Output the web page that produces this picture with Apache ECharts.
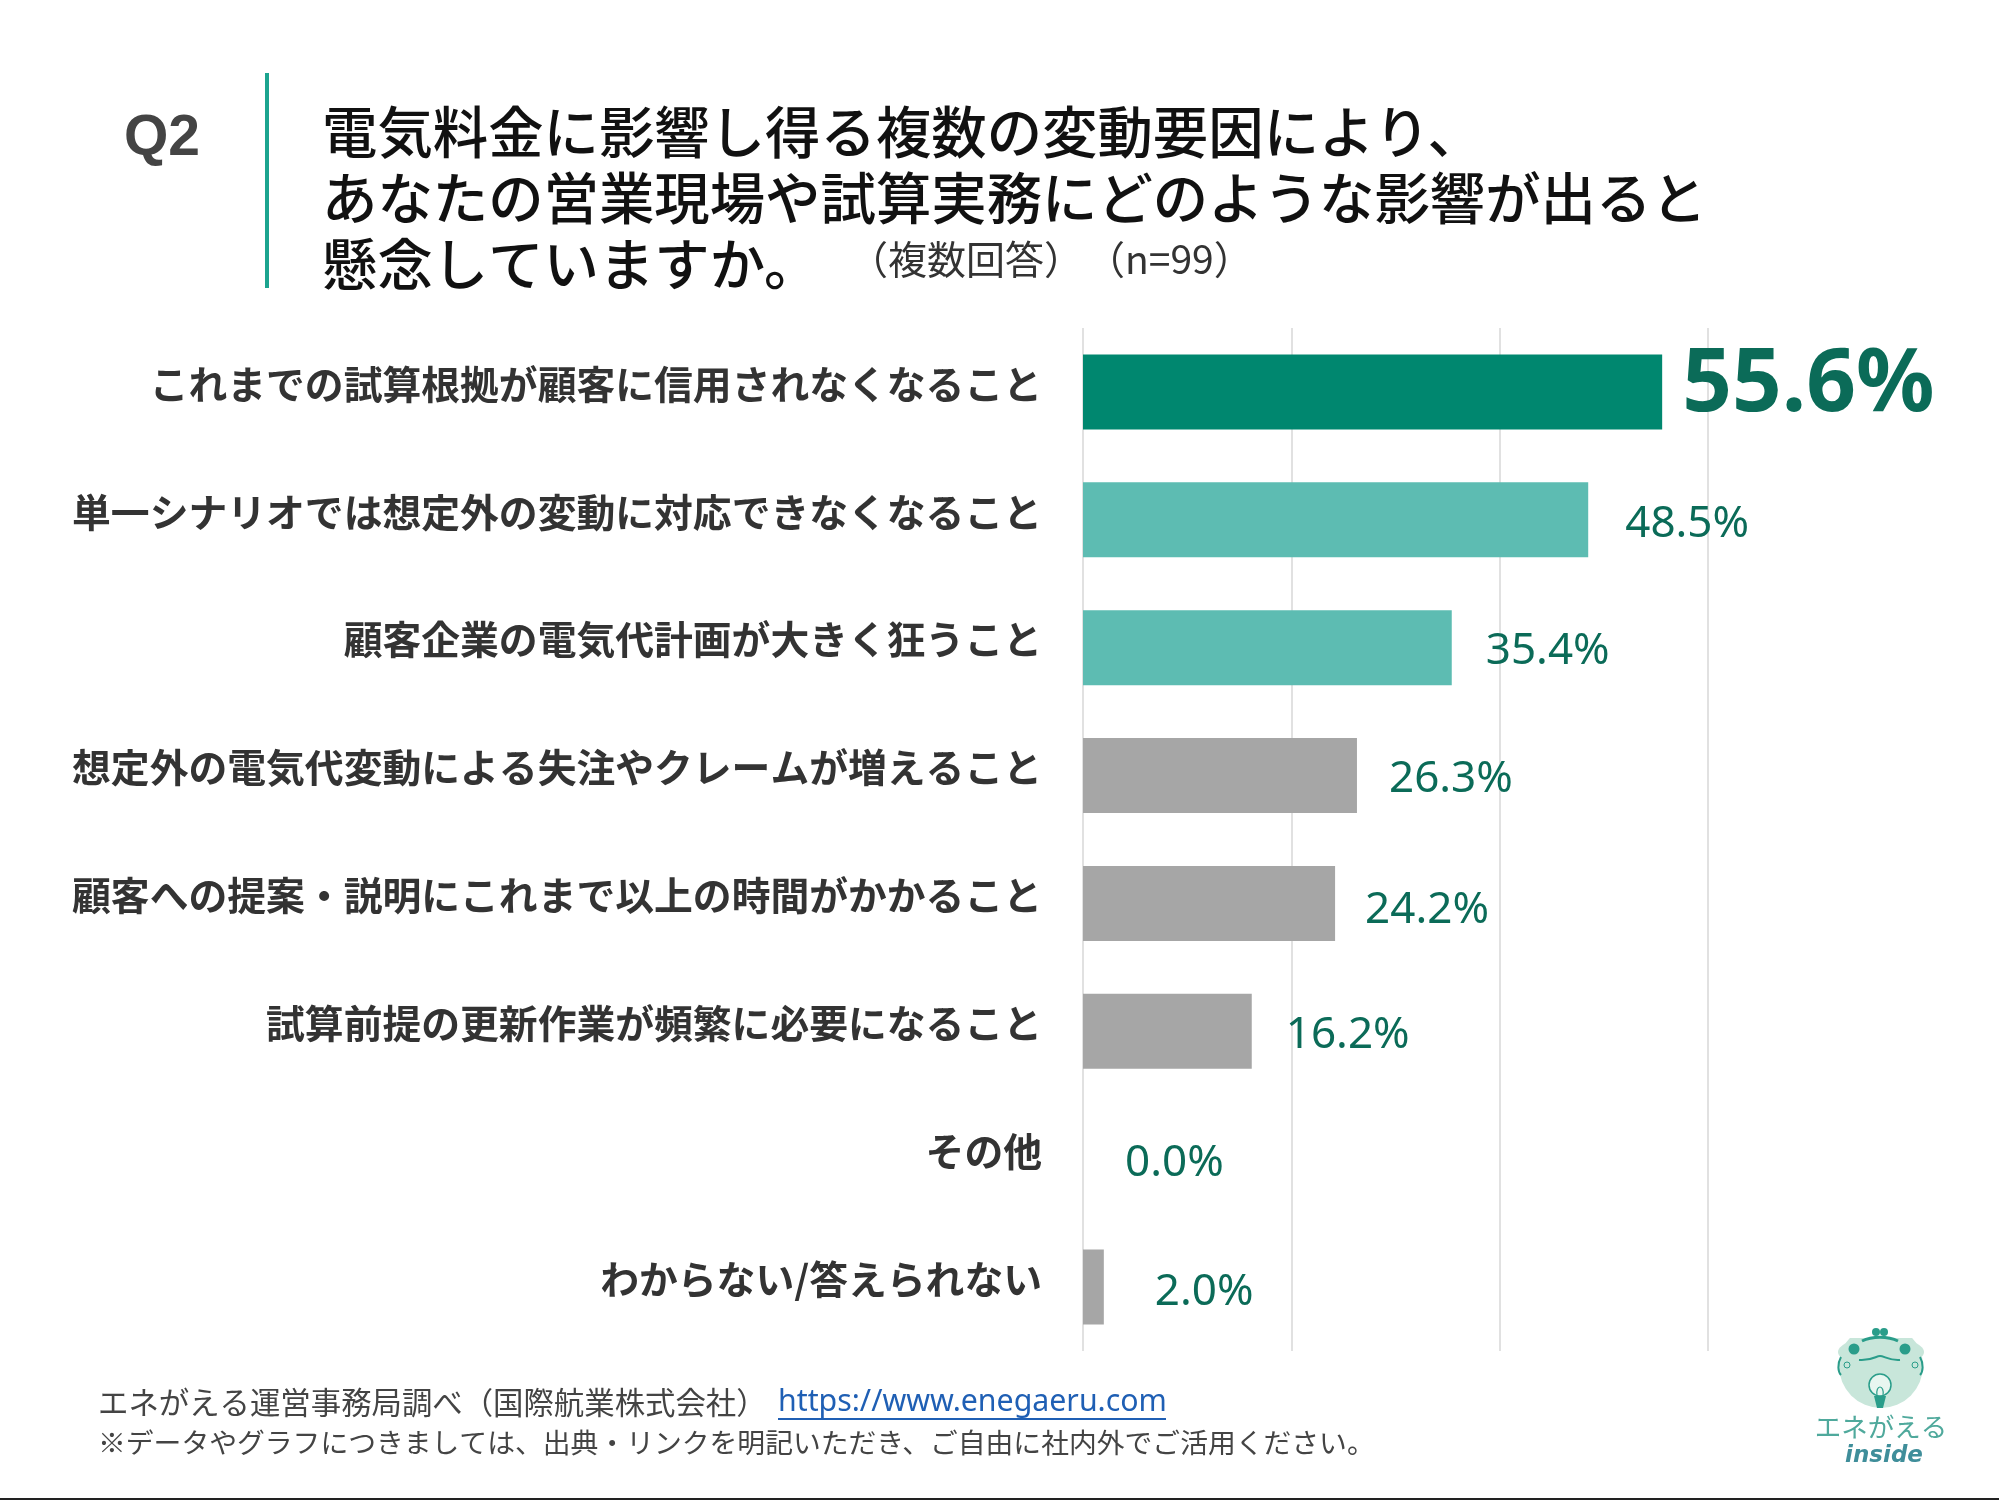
<!DOCTYPE html>
<html lang="ja">
<head>
<meta charset="utf-8">
<title>Q2</title>
<style>html,body{margin:0;padding:0;background:#fff}#chart{width:1999px;height:1500px}</style>
<script src="https://cdn.jsdelivr.net/npm/echarts@6/dist/echarts.min.js"></script>
</head>
<body>
<div id="chart"></div>
<script>
// Survey responses, in percent of respondents (n=99)
const categories = [
  'これまでの試算根拠が顧客に信用されなくなること',
  '単一シナリオでは想定外の変動に対応できなくなること',
  '顧客企業の電気代計画が大きく狂うこと',
  '想定外の電気代変動による失注やクレームが増えること',
  '顧客への提案・説明にこれまで以上の時間がかかること',
  '試算前提の更新作業が頻繁に必要になること',
  'その他',
  'わからない/答えられない'
];
const values = [55.6, 48.5, 35.4, 26.3, 24.2, 16.2, 0.0, 2.0];
const xTicks = [0, 20, 40, 60];

// Presentation per bar: fill, gap before the value label, vertical nudge
const barColors = ['#00876f', '#5dbcb2', '#5dbcb2', '#a6a6a6', '#a6a6a6', '#a6a6a6', '#a6a6a6', '#a6a6a6'];
const labelGaps = [20, 37, 34, 32, 30, 34, 42, 51];
const labelNudges = [-6, 5, 4, 4, 7, 4, 4, 5];

const CJK = '"Noto Sans CJK JP","Noto Sans",sans-serif';
const LATIN = '"Noto Sans","Open Sans",sans-serif';
const INK = '#111111';
const VALUE_GREEN = '#0b6b58';
const LOGO_GREEN = '#2a9d8a';
const LOGO_PALE = '#c8e6da';

function textEl(x, y, text, size, fill, extra) {
  return {
    type: 'text', x: x, y: y, silent: true,
    style: Object.assign({
      text: text, fill: fill, font: '400 ' + size + 'px ' + CJK,
      textAlign: 'left', textVerticalAlign: 'middle'
    }, extra || {})
  };
}

function titleLine(y, text) {
  return textEl(322, y, text, 55.4, INK, { font: '500 55.4px ' + CJK });
}

const heading = [
  // question marker and rule
  textEl(124, 139, 'Q2', 57, '#444444', { font: '700 57px "Liberation Sans",Arial,sans-serif' }),
  { type: 'rect', silent: true, shape: { x: 265, y: 73, width: 4, height: 215 }, style: { fill: '#1ca48f' } },
  // question text
  titleLine(132, '電気料金に影響し得る複数の変動要因により、'),
  titleLine(198, 'あなたの営業現場や試算実務にどのような影響が出ると'),
  titleLine(264, '懸念していますか。'),
  textEl(849, 259, '（複数回答）', 39, '#333333'),
  textEl(1086, 259, '（n=99）', 39, '#333333', { font: '400 39px ' + CJK })
];

const footer = [
  textEl(98, 1402, 'エネがえる運営事務局調べ（国際航業株式会社）', 30.4, '#444444'),
  textEl(778, 1402, 'https://www.enegaeru.com', 30.3, '#1f5fb4', { font: '400 30.3px ' + LATIN }),
  { type: 'rect', silent: true, shape: { x: 778, y: 1418, width: 388, height: 2 }, style: { fill: '#1f5fb4' } },
  textEl(98, 1442, '※データやグラフにつきましては、出典・リンクを明記いただき、ご自由に社内外でご活用ください。', 27.8, '#444444'),
  { type: 'rect', silent: true, shape: { x: 0, y: 1498, width: 1999, height: 2 }, style: { fill: '#222222' } }
];

function curve(x1, y1, cx1, cy1, cx2, cy2, x2, y2, width, color) {
  return {
    type: 'bezierCurve', silent: true,
    shape: { x1: x1, y1: y1, cpx1: cx1, cpy1: cy1, cpx2: cx2, cpy2: cy2, x2: x2, y2: y2 },
    style: { stroke: color || LOGO_GREEN, lineWidth: width, fill: 'none' }
  };
}

// Frog-and-light-bulb brand mark
const logo = [
  { type: 'circle', silent: true, shape: { cx: 1881, cy: 1366, r: 42 }, style: { fill: LOGO_PALE } },
  { type: 'rect', silent: true, shape: { x: 1838, y: 1324, width: 86, height: 14 }, style: { fill: '#ffffff' } },
  { type: 'ellipse', silent: true, shape: { cx: 1881, cy: 1352, rx: 43, ry: 15 }, style: { fill: LOGO_PALE } },
  { type: 'circle', silent: true, shape: { cx: 1854, cy: 1349, r: 5.5 }, style: { fill: LOGO_GREEN } },
  { type: 'circle', silent: true, shape: { cx: 1905, cy: 1349, r: 5.5 }, style: { fill: LOGO_GREEN } },
  { type: 'circle', silent: true, shape: { cx: 1876, cy: 1332, r: 4 }, style: { fill: LOGO_GREEN } },
  { type: 'circle', silent: true, shape: { cx: 1884, cy: 1332, r: 4 }, style: { fill: LOGO_GREEN } },
  curve(1862, 1341, 1872, 1336, 1888, 1336, 1898, 1341, 3),
  curve(1859, 1360, 1872, 1361, 1876, 1356, 1880, 1356, 2),
  curve(1880, 1356, 1884, 1356, 1890, 1361, 1900, 1360, 2),
  curve(1841, 1357, 1837, 1364, 1838, 1372, 1841, 1375, 2),
  curve(1920, 1357, 1924, 1364, 1923, 1372, 1920, 1375, 2),
  { type: 'circle', silent: true, shape: { cx: 1847, cy: 1365, r: 3 }, style: { fill: 'none', stroke: LOGO_GREEN, lineWidth: 1 } },
  { type: 'circle', silent: true, shape: { cx: 1915, cy: 1365, r: 3 }, style: { fill: 'none', stroke: LOGO_GREEN, lineWidth: 1 } },
  { type: 'circle', silent: true, shape: { cx: 1880, cy: 1385, r: 11 }, style: { fill: '#e8f6f0', stroke: LOGO_GREEN, lineWidth: 1.5 } },
  curve(1877, 1396, 1875, 1384, 1885, 1384, 1883, 1396, 1.2),
  { type: 'polygon', silent: true, shape: { points: [[1874, 1396], [1886, 1396], [1883, 1408], [1877, 1408]] }, style: { fill: LOGO_GREEN } },
  textEl(1881, 1427, 'エネがえる', 26.5, '#4fa99c', { textAlign: 'center' }),
  textEl(1884, 1456, 'inside', 23, '#3f8e9a', { textAlign: 'center', font: 'italic 700 23px "DejaVu Sans",sans-serif' })
];

const seriesData = values.map(function (v, i) {
  const lead = i === 0;
  return {
    value: v,
    itemStyle: { color: barColors[i] },
    label: {
      distance: labelGaps[i],
      offset: [0, labelNudges[i]],
      fontSize: lead ? 87 : 44,
      fontWeight: lead ? 700 : 400
    }
  };
});

const chart = echarts.init(document.getElementById('chart'), null, { renderer: 'canvas' });
chart.setOption({
  animation: false,
  backgroundColor: '#ffffff',
  grid: { left: 1083, right: 291, top: 328, bottom: 149, containLabel: false },
  xAxis: {
    type: 'value', min: xTicks[0], max: xTicks[xTicks.length - 1], interval: xTicks[1] - xTicks[0],
    axisLabel: { show: false }, axisTick: { show: false }, axisLine: { show: false },
    splitLine: { show: true, lineStyle: { color: '#e1e1e1', width: 2 } }
  },
  yAxis: {
    type: 'category', inverse: true, data: categories,
    axisTick: { show: false }, axisLine: { show: false },
    splitLine: { show: false },
    axisLabel: {
      margin: 41, fontSize: 38.8, fontWeight: 700, color: '#333333',
      fontFamily: '"Noto Sans CJK JP",sans-serif',
      verticalAlign: 'bottom', lineHeight: 16
    }
  },
  series: [{
    type: 'bar', data: seriesData, barWidth: 75,
    label: {
      show: true, position: 'right', color: VALUE_GREEN,
      fontFamily: LATIN,
      formatter: function (p) { return p.value.toFixed(1) + '%'; }
    }
  }],
  graphic: { elements: heading.concat(footer, logo) }
});
</script>
</body>
</html>
